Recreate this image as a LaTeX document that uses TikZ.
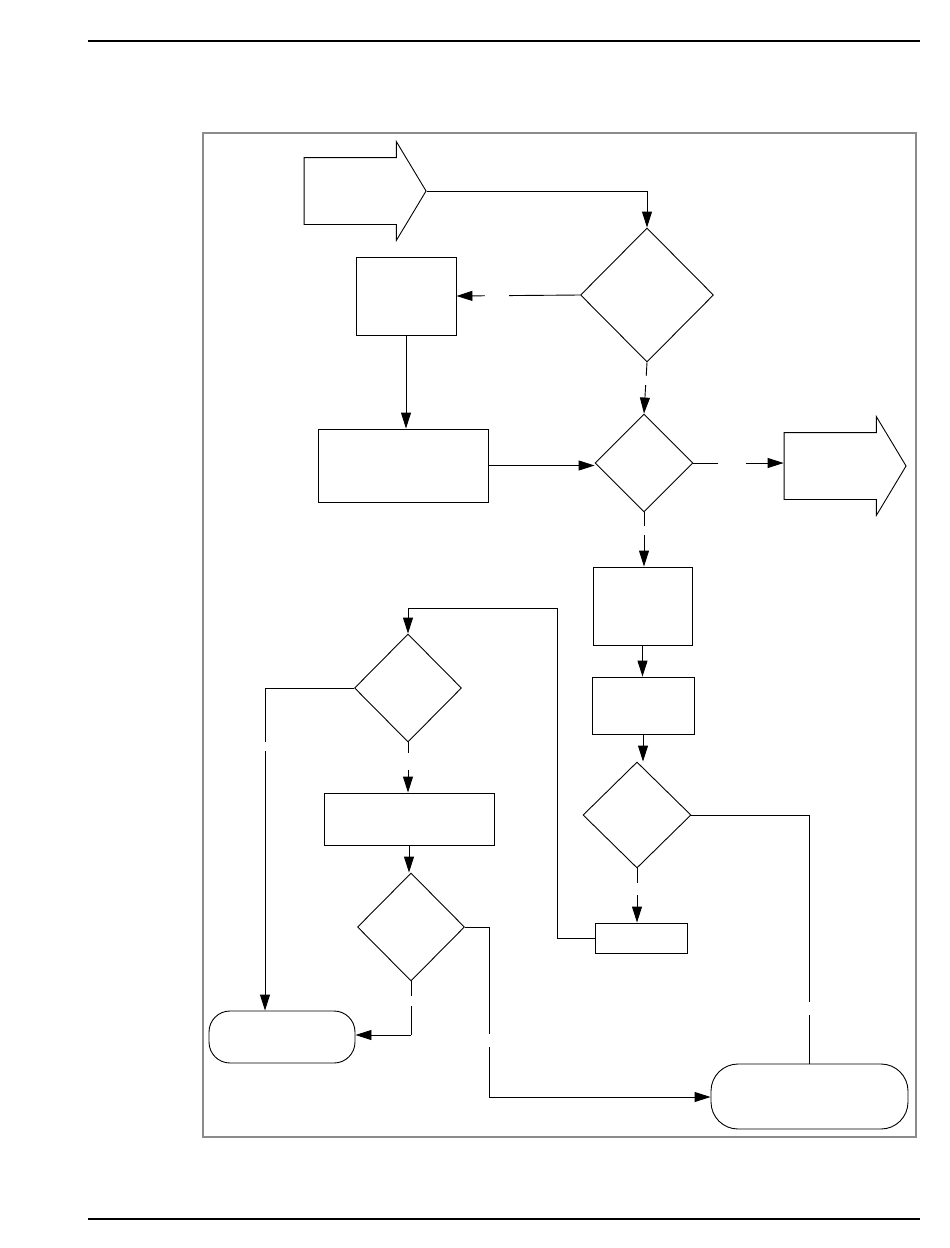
\documentclass[tikz,border=0pt]{standalone}
\usepackage{xcolor}
\usepackage{tikz}
\usetikzlibrary{shapes,shapes.geometric,shapes.arrows,arrows.meta}

\begin{document}
\begin{tikzpicture}[
    x=1pt, y=-1pt,
    line width=0.9pt,
    >={Triangle[length=16pt,width=10pt]},
    process/.style={draw, rectangle, inner sep=0pt},
    decision/.style={draw, diamond, inner sep=0pt},
    terminal/.style={draw, rectangle, inner sep=0pt},
    bigarrow/.style={draw, single arrow, inner xsep=0pt, inner ysep=33pt,
        minimum height=122pt, single arrow head extend=16pt,
        single arrow tip angle=118},
    labelgap/.style={fill=white, inner sep=0pt, minimum width=#1, minimum height=#1}
]
    \useasboundingbox (0,0) rectangle (950,1248);

    % page rules and frame
    \draw[line width=1.2pt] (88,41) -- (920,41);
    \draw[line width=1.2pt] (88,1219) -- (920,1219);
    \draw[line width=1.5pt, color=black!45] (203,133) rectangle (916,1137);

    % shapes
    \node[bigarrow] (inArrow) at (355,191) {};
    \node[bigarrow] (outArrow) at (835,466) {};

    \node[decision, minimum width=133pt, minimum height=134pt] (d1) at (647,295) {};
    \node[decision, minimum width=98pt, minimum height=98pt] (d2) at (644,463) {};
    \node[decision, minimum width=107pt, minimum height=108pt] (d3) at (408,688) {};
    \node[decision, minimum width=107pt, minimum height=108pt] (d4) at (411,927) {};
    \node[decision, minimum width=108pt, minimum height=106pt] (d5) at (637,815) {};

    \node[process, minimum width=100pt, minimum height=78pt] (b1) at (406,296) {};
    \node[process, minimum width=170pt, minimum height=73pt] (b2) at (403,465.5) {};
    \node[process, minimum width=99pt, minimum height=78pt] (b3) at (642.5,606) {};
    \node[process, minimum width=102pt, minimum height=57pt] (b4) at (643,705.5) {};
    \node[process, minimum width=92pt, minimum height=30pt] (b5) at (641,938) {};
    \node[process, minimum width=170pt, minimum height=52pt] (b6) at (409,819) {};

    \node[terminal, rounded corners=21pt, minimum width=146pt, minimum height=52pt] (t1) at (282,1037) {};
    \node[terminal, rounded corners=27pt, minimum width=197pt, minimum height=65pt] (t2) at (809.5,1096.5) {};

    % turning points
    \coordinate (loopR) at (557,608);
    \coordinate (leftC) at (265,688);
    \coordinate (d4low) at (411,1035);
    \coordinate (d4r) at (489,927);
    \coordinate (d4rb) at (489,1097);
    \coordinate (d5r) at (809,815);

    % connectors
    \draw[->] (inArrow.east) -| (d1.north);
    \draw[->] (d1.west) -- node[pos=.675, labelgap=24pt] {} (b1.east);
    \draw[->] (b1.south) -- (b1.south |- b2.north);
    \draw[->] (b2.east) -- (b2.east -| d2.west);
    \draw[->] (d1.south) -- node[pos=.36, labelgap=9pt] {} (d2.north);
    \draw[->] (d2.east) -- node[pos=.43, labelgap=28pt] {} (d2.east -| outArrow.west);
    \draw[->] (d2.south) -- node[pos=.34, labelgap=9pt] {} (d2.south |- b3.north);
    \draw[->] (b3.south) -- (b3.south |- b4.north);
    \draw[->] (b4.south) -- (b4.south |- d5.north);
    \draw[->] (d5.south) -- node[pos=.38, labelgap=12pt] {} (d5.south |- b5.north);
    \draw[->] (b5.west) -| (loopR) -| (d3.north);
    \draw (d3.west) -- (leftC);
    \draw[->] (leftC) -- node[pos=.18, labelgap=9pt] {} (leftC |- t1.north);
    \draw[->] (d3.south) -- node[pos=.38, labelgap=17pt] {} (d3.south |- b6.north);
    \draw[->] (b6.south) -- (b6.south |- d4.north);
    \draw (d4.south) -- node[pos=.37, labelgap=10pt] {} (d4low);
    \draw[->] (d4low) -- (d4low -| t1.east);
    \draw (d4.east) -- (d4r) -- node[pos=.67, labelgap=13pt] {} (d4rb);
    \draw[->] (d4rb) -- (d4rb -| t2.west);
    \draw (d5.east) -- (d5r) -- node[pos=.78, labelgap=13pt] {} (d5r |- t2.north);

\end{tikzpicture}
\end{document}
